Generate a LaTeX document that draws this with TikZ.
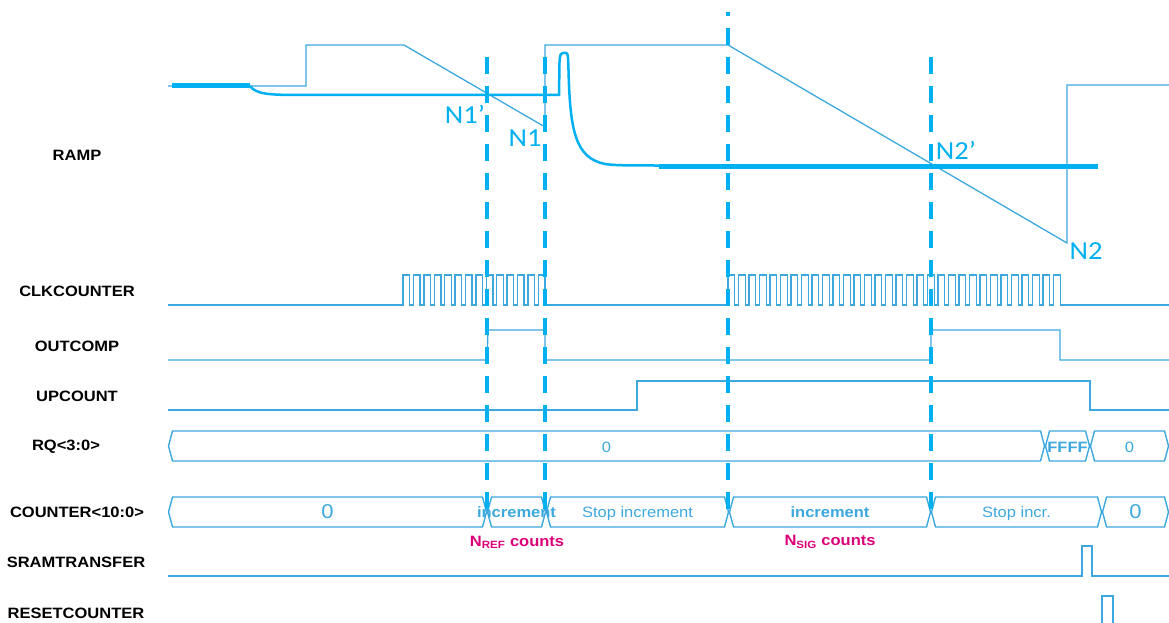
\documentclass[tikz,border=0pt]{standalone}
\usepackage{fontspec}
\setmainfont{Liberation Sans}[FakeStretch=1.1]
\newfontfamily\nfont{Carlito}[FakeStretch=1.1]
\definecolor{rampblue}{RGB}{0,176,240}
\definecolor{wireblue}{RGB}{60,168,222}
\definecolor{cntmag}{RGB}{220,0,120}
\tikzset{
  wire/.style={wireblue,line width=1.4pt,line join=miter},
  ramp/.style={rampblue,line width=#1},
  ramp/.default=2.5pt,
  cutline/.style={rampblue,line width=4pt,dash pattern=on 17pt off 12pt},
  sig/.style={font=\fontsize{15}{18}\selectfont\bfseries,text=black,inner sep=0pt},
  nlbl/.style={font=\nfont\fontsize{26}{30}\selectfont,text=rampblue,inner sep=0pt},
  bustxt/.style={font=\fontsize{15}{18}\selectfont,text=wireblue,inner sep=0pt,
                 text depth=0pt},
  cnt/.style={font=\fontsize{15}{18}\selectfont\bfseries,text=cntmag,inner sep=0pt},
}

\begin{document}
\begin{tikzpicture}[x=1pt,y=-1pt]
    \useasboundingbox (0,0) rectangle (1169,623);

    % signal names
    \foreach \t/\x/\y [count=\i] in {RAMP/77/155, CLKCOUNTER/77/291,
        OUTCOMP/77/346, UPCOUNT/77/396, RQ<3:0>/66/447,
        COUNTER<10:0>/77/512, SRAMTRANSFER/76/562, RESETCOUNTER/76/613}{
      \node[sig] (sig\i) at (\x,\y) {\t};
    }

    % RAMP
    \draw[wire,line width=1.3pt] (168,86) -- (306,86) -- (306,45) -- (404,45)
        -- (545,127) -- (545,45) -- (728,45) -- (1067,243) -- (1067,85) -- (1169,85);
    \draw[ramp] (250,86) .. controls (256,94) and (268,95) .. (300,95) -- (559,95)
        -- (559.5,62) .. controls (560,54) and (561,53) .. (563,53) -- (566,53)
        .. controls (568,53) and (568,56) .. (568.5,70)
        .. controls (570,130) and (575,158) .. (605,164)
        .. controls (615,165.5) and (630,165.5) .. (660,165.5);
    \draw[ramp=5pt] (172,86) -- (250,86);
    \draw[ramp=5pt] (659,166) -- (1098,166);

    \node[nlbl] (n1p) at (465,114) {N1’};
    \node[nlbl] (n1)  at (525,138) {N1};
    \node[nlbl] (n2p) at (956,150) {N2’};
    \node[nlbl] (n2)  at (1086,251) {N2};

    % CLKCOUNTER
    \draw[wire] (168,305) -- (403,305)
      \foreach \k in {0,...,13}{ -- ({403+\k*10.4},305) -- ({403+\k*10.4},275)
        -- ({409.7+\k*10.4},275) -- ({409.7+\k*10.4},305) }
      -- (728,305)
      \foreach \k in {0,...,31}{ -- ({728+\k*10.5},305) -- ({728+\k*10.5},275)
        -- ({734.7+\k*10.5},275) -- ({734.7+\k*10.5},305) }
      -- (1169,305);

    % OUTCOMP, UPCOUNT
    \draw[wire] (168,360) -- (487,360) -- (488,330) -- (545,330) -- (545,360)
        -- (931,360) -- (931,330) -- (1060,330) -- (1060,360) -- (1169,360);
    \draw[wire] (168,410) -- (637,410) -- (637,381) -- (1090,381) -- (1090,410) -- (1169,410);

    % RQ<3:0>
    \foreach \a/\b/\t [count=\i] in {168/1045/0, 1045/1090/{\bfseries FFFF},
        1090/1169/0}{
      \draw[wire] ({\a+0.5},446) -- ({\a+4.5},431) -- ({\b-4.5},431) -- ({\b-0.5},446)
          -- ({\b-4.5},461) -- ({\a+4.5},461) -- cycle;
      \node[bustxt] (rq\i) at ({(\a+\b)/2},447) {\t};
    }

    % COUNTER<10:0>
    \foreach \a/\b/\t [count=\i] in {168/487/{\fontsize{20}{24}\selectfont 0},
        487/546/{\bfseries increment}, 546/729/Stop increment,
        729/931/{\bfseries increment}, 931/1102/Stop incr.,
        1102/1169/{\fontsize{20}{24}\selectfont 0}}{
      \draw[wire] ({\a+0.5},512) -- ({\a+4.5},497) -- ({\b-4.5},497) -- ({\b-0.5},512)
          -- ({\b-4.5},527) -- ({\a+4.5},527) -- cycle;
      \node[bustxt] (cnt\i) at ({(\a+\b)/2},512) {\t};
    }
    \node[cnt] (nref) at (517,542) {N\textsubscript{REF} counts};
    \node[cnt] (nsig) at (830,542) {N\textsubscript{SIG} counts};

    % SRAMTRANSFER, RESETCOUNTER
    \draw[wire] (168,576) -- (1082,576) -- (1082,546) -- (1092,546) -- (1092,576) -- (1169,576);
    \draw[wire] (1102,626) -- (1102,596) -- (1113,596) -- (1113,626);

    % conversion instants
    \foreach \x in {487,545,931}
      \draw[cutline] (\x,57) -- (\x,509);
    \draw[cutline,dash phase=13pt] (728,12) -- (728,509);
\end{tikzpicture}
\end{document}
